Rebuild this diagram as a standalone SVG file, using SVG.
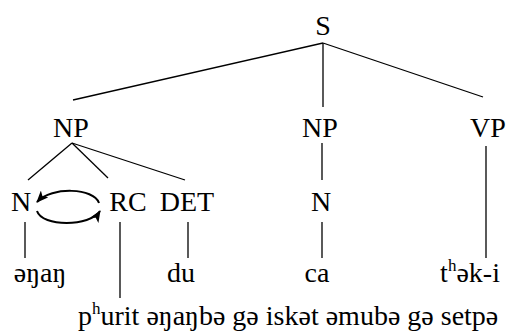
<svg xmlns="http://www.w3.org/2000/svg" width="523" height="333" viewBox="0 0 523 333">
  <defs>
    <marker id="head" viewBox="0 0 12 10" refX="11" refY="5" markerWidth="12" markerHeight="10" markerUnits="userSpaceOnUse" orient="auto">
      <path d="M0,0 L12,5 L0,10 L3,5 Z" fill="#000"/>
    </marker>
  </defs>

  <!-- tree branches and the N/RC cross-reference arrows -->
  <g id="connectors" stroke="#000" stroke-width="1.3" fill="none">
    <line x1="323" y1="43" x2="73" y2="100"/>
    <line x1="323" y1="43" x2="323" y2="107"/>
    <line x1="323" y1="43" x2="483" y2="97"/>
    <line x1="72" y1="143" x2="28" y2="180"/>
    <line x1="72" y1="143" x2="108" y2="178"/>
    <line x1="72" y1="143" x2="185" y2="180"/>
    <line x1="322" y1="143" x2="322" y2="180"/>
    <line x1="486" y1="146" x2="486" y2="258"/>
    <line x1="25" y1="222" x2="25" y2="258"/>
    <line x1="120" y1="222" x2="120" y2="298"/>
    <line x1="188" y1="222" x2="188" y2="258"/>
    <line x1="322" y1="222" x2="322" y2="258"/>
    <path stroke-width="2" d="M99,203 C94,188 52,186 37,202" marker-end="url(#head)"/>
    <path stroke-width="2" d="M37,211 C42,227 90,227 100,211" marker-end="url(#head)"/>
  </g>

  <g font-family="Liberation Serif" font-size="28" fill="#000" text-anchor="middle">
    <g id="S"><text x="323" y="35">S</text></g>
    <g id="NP1"><text x="71" y="137">NP</text></g>
    <g id="NP2"><text x="320" y="137">NP</text></g>
    <g id="VP"><text x="488" y="137">VP</text></g>
    <g id="N1"><text x="21" y="211">N</text></g>
    <g id="RC"><text x="128" y="211">RC</text></g>
    <g id="DET"><text x="187" y="211">DET</text></g>
    <g id="N2"><text x="321" y="211">N</text></g>
    <g id="w-enan"><text x="40" y="282">əŋaŋ</text></g>
    <g id="w-du"><text x="181" y="282">du</text></g>
    <g id="w-ca"><text x="317" y="282">ca</text></g>
    <g id="w-thek"><text x="470" y="282">t<tspan font-size="17" dy="-11">h</tspan><tspan dy="11">ək-i</tspan></text></g>
    <g id="w-clause"><text x="78" y="325" text-anchor="start">p<tspan font-size="17" dy="-11">h</tspan><tspan dy="11">urit əŋaŋbə gə iskət əmubə gə  setpə</tspan></text></g>
  </g>
</svg>
